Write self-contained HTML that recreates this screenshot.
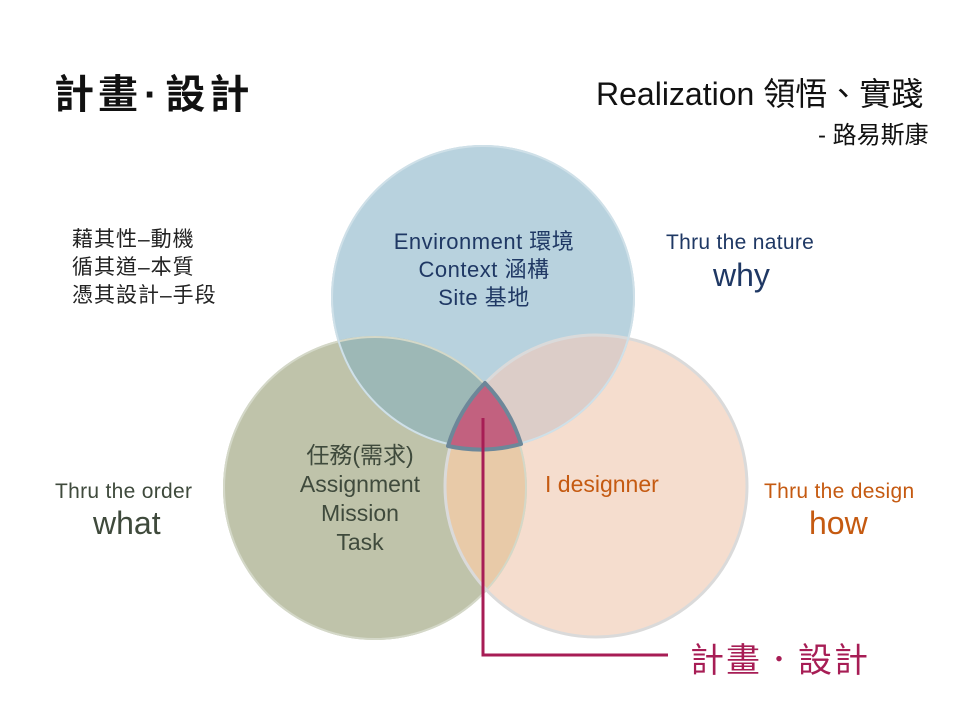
<!DOCTYPE html>
<html><head><meta charset="utf-8"><style>
body{margin:0;width:960px;height:720px;background:#fff;overflow:hidden;font-family:"Liberation Sans","Noto Sans CJK TC",sans-serif}
svg{position:absolute;left:0;top:0}
.t{position:absolute;white-space:nowrap}
</style></head><body>
<svg width="960" height="720">
<defs>
<clipPath id="cb"><circle cx="483" cy="297" r="152"/></clipPath>
<clipPath id="cg"><circle cx="375" cy="488" r="152"/></clipPath>
</defs>
<circle cx="375" cy="488" r="152" fill="#bfc3aa"/>
<circle cx="596" cy="486" r="152" fill="#f5ddce"/>
<circle cx="596" cy="486" r="152" fill="#e8caa8" clip-path="url(#cg)"/>
<circle cx="483" cy="297" r="152" fill="#b8d2de"/>
<circle cx="375" cy="488" r="152" fill="#9db8b6" clip-path="url(#cb)"/>
<circle cx="596" cy="486" r="152" fill="#dccdc8" clip-path="url(#cb)"/>
<circle cx="375" cy="488" r="151" fill="none" stroke="#d4d8c8" stroke-width="2"/>
<circle cx="596" cy="486" r="151" fill="none" stroke="#dadada" stroke-width="3"/>
<circle cx="483" cy="297" r="151" fill="none" stroke="#cfe0e8" stroke-width="2"/>
<path d="M485,383 A152,152 0 0,0 448,446 A152,152 0 0,0 521,444 A152,152 0 0,0 485,383 Z" fill="#c2617f" stroke="#6d8799" stroke-width="4" stroke-linejoin="round"/>
<polyline points="483,418 483,655 668,655" fill="none" stroke="#a71d55" stroke-width="3"/>
</svg>
<div class="t" style="left:54px;top:62px;font-size:40px;font-weight:bold;color:#111;letter-spacing:4px">計畫<span style="font-family:'Liberation Sans',sans-serif;margin:0 4px 0 2px">·</span>設計</div>
<div class="t" style="left:596px;top:69px;font-size:32px;color:#111">Realization 領悟、實踐</div>
<div class="t" style="left:818px;top:115px;font-size:24px;color:#111">- 路易斯康</div>
<div class="t" style="left:72px;top:226px;font-size:21px;line-height:28px;color:#222;letter-spacing:1px">藉其性–動機<br>循其道–本質<br>憑其設計–手段</div>
<div class="t" style="left:374px;top:228px;width:220px;text-align:center;font-size:22px;line-height:28px;color:#1f3864;letter-spacing:0.5px">Environment 環境<br>Context 涵構<br>Site 基地</div>
<div class="t" style="left:666px;top:231px;font-size:21px;color:#1f3864;letter-spacing:0.3px">Thru the nature</div>
<div class="t" style="left:713px;top:257px;font-size:32px;color:#1f3864">why</div>
<div class="t" style="left:270px;top:441px;width:180px;text-align:center;font-size:23px;line-height:29px;color:#3f4a3c">任務(需求)<br>Assignment<br>Mission<br>Task</div>
<div class="t" style="left:545px;top:471px;font-size:23px;color:#c55a11">I designner</div>
<div class="t" style="left:55px;top:480px;font-size:21px;color:#3f4a3c;letter-spacing:0.3px">Thru the order</div>
<div class="t" style="left:93px;top:505px;font-size:32px;color:#3f4a3c">what</div>
<div class="t" style="left:764px;top:480px;font-size:21px;color:#c55a11;letter-spacing:0.3px">Thru the design</div>
<div class="t" style="left:809px;top:505px;font-size:32px;color:#c55a11">how</div>
<div class="t" style="left:690px;top:633px;font-size:34px;color:#a71d55;letter-spacing:2px">計畫．設計</div>
</body></html>
